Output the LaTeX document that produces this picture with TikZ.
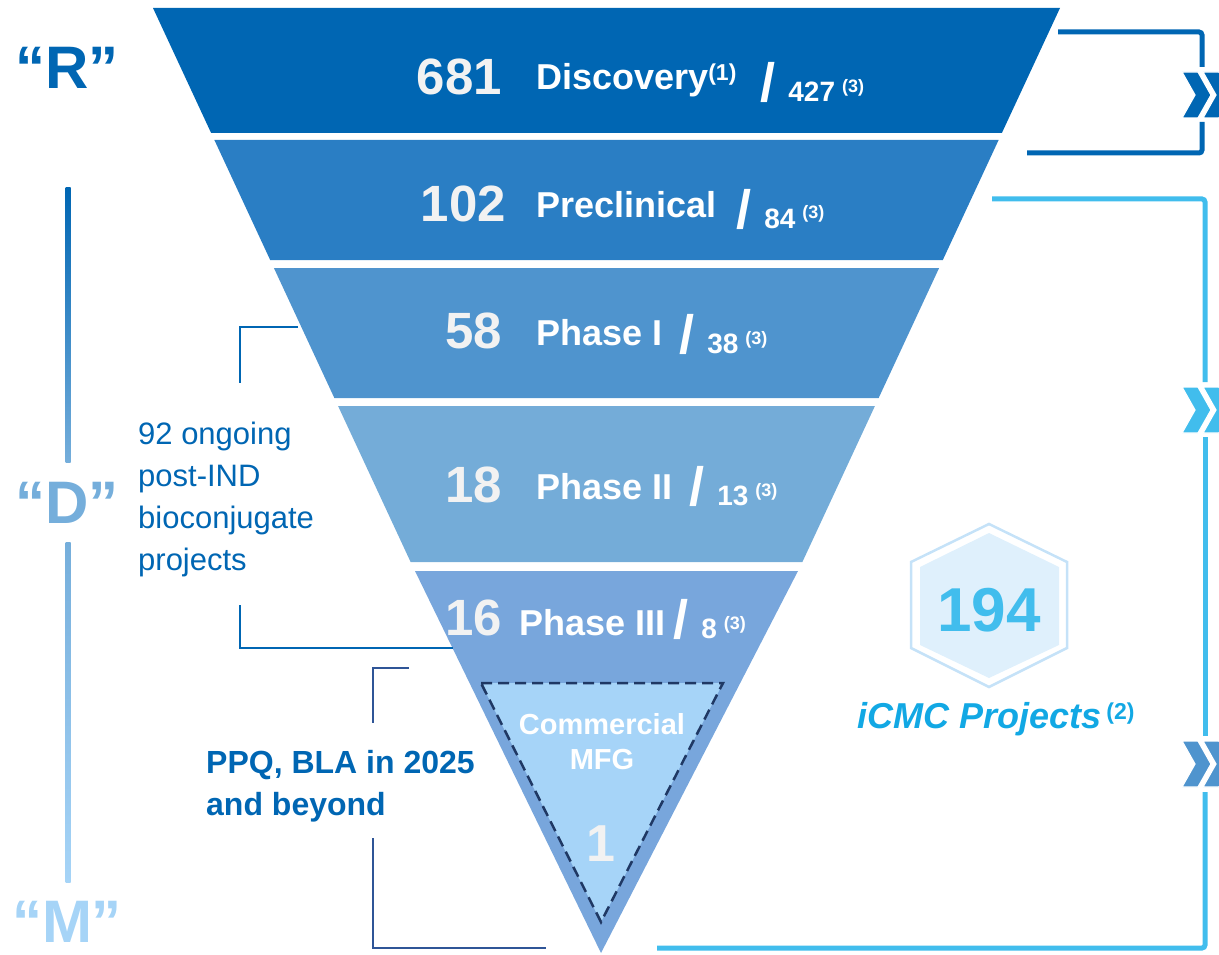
\documentclass[tikz,border=0pt]{standalone}
\usepackage{fontspec}
\setmainfont{Liberation Sans}
\usetikzlibrary{positioning}

\definecolor{bandA}{HTML}{0066B3}
\definecolor{bandB}{HTML}{2A7EC4}
\definecolor{bandC}{HTML}{4F94CE}
\definecolor{bandD}{HTML}{74ACD8}
\definecolor{bandE}{HTML}{78A6DC}
\definecolor{mfg}{HTML}{A6D4F8}
\definecolor{navy}{HTML}{1F3864}
\definecolor{navyB}{HTML}{2F5597}
\definecolor{numgray}{HTML}{F2F2F2}
\definecolor{letterD}{HTML}{75AEDB}
\definecolor{letterM}{HTML}{A6D4F7}
\definecolor{cmc}{HTML}{41BDED}
\definecolor{cmctext}{HTML}{12A8E4}
\definecolor{hexline}{HTML}{C5E2F8}
\definecolor{hexfill}{HTML}{DFF0FC}

\newcommand{\fsz}[1]{\fontsize{#1}{#1}\selectfont}
% slash, count and (3) behind a stage name
\newcommand{\tailcnt}[3]{\hspace{#1}\raisebox{-#2}{\fsz{54}/\hspace{13pt}\fsz{28}#3\hspace{7pt}\raisebox{9pt}{\fsz{18}(3)}}}

\begin{document}
\begin{tikzpicture}[x=1pt,y=-1pt,
    num/.style={inner sep=0pt,anchor=base east,text=numgray,font=\bfseries\fsz{51}},
    stage/.style={inner sep=0pt,text=white,font=\bfseries\fsz{36}},
    note/.style={inner sep=0pt,align=left,anchor=west,text=bandA},
    brk/.style={line width=2pt},
    rail/.style={line width=5pt,rounded corners=3pt}]

  \useasboundingbox (0,0) rectangle (1219,955);

  % funnel
  \foreach \ya/\yb/\col in {8/133/bandA,140/260/bandB,268/398/bandC,406/562/bandD}
    \fill[\col] ({153+0.465*(\ya-8)},\ya) -- ({1060-0.465*(\ya-8)},\ya)
      -- ({1060-0.465*(\yb-8)},\yb) -- ({153+0.465*(\yb-8)},\yb) -- cycle;
  \fill[bandE] (415,571) -- (798,571) -- (601,953) -- cycle;
  \filldraw[fill=mfg,draw=navy,line width=2.5pt,dash pattern=on 11pt off 6pt]
    (481,683) -- (723,683) -- (601,922) -- cycle;

  \node[num]   (n681)  at (502,95)                      {681};
  \node[stage] (disc)  [base right=34pt of n681,yshift=5pt] {Discovery\raisebox{9pt}{\fsz{23}(1)}\tailcnt{24pt}{12pt}{427}};
  \node[num]   (n102)  at (506,222)                     {102};
  \node[stage] (precl) [base right=30pt of n102,yshift=4pt] {Preclinical\tailcnt{20pt}{10pt}{84}};
  \node[num]   (n58)   at (502,348)                     {58};
  \node[stage] (ph1)   [base right=34pt of n58,yshift=3pt]  {Phase I\tailcnt{17pt}{8pt}{38}};
  \node[num]   (n18)   at (502,502)                     {18};
  \node[stage] (ph2)   [base right=34pt of n18,yshift=3pt]  {Phase II\tailcnt{17pt}{6pt}{13}};
  \node[num]   (n16)   at (502,635)                     {16};
  \node[stage] (ph3)   [base right=17pt of n16]             {Phase III\tailcnt{8pt}{3pt}{8}};

  \node[stage,align=center,font=\bfseries\fontsize{29}{35}\selectfont] (comm) at (602,742) {Commercial\\MFG};
  \node[stage,text=numgray,font=\bfseries\fsz{52}] (n1) at (601,844) {1};

  % R / D / M rail
  \shade[top color=bandA,bottom color=letterD] (65.5,188) rectangle (70.5,462);
  \shade[top color=letterD,bottom color=letterM] (65.5,542) rectangle (70.5,882);
  \node[inner sep=0pt,text=bandA,font=\bfseries\fsz{60}]   (rR) at (67,68)  {“R”};
  \node[inner sep=0pt,text=letterD,font=\bfseries\fsz{60}] (rD) at (67,503) {“D”};
  \node[inner sep=0pt,text=letterM,font=\bfseries\fsz{60}] (rM) at (67,922) {“M”};

  % brackets on the left
  \draw[brk,bandA] (298,327) -| (240,383);
  \draw[brk,bandA] (240,605) |- (453,648);
  \node[note,font=\fontsize{31}{42}\selectfont] (ongoing) at (138,499) {92 ongoing\\post-IND\\bioconjugate\\projects};
  \draw[brk,navyB] (409,668) -| (373,723);
  \draw[brk,navyB] (373,838) |- (546,948);
  \node[note,font=\bfseries\fontsize{32}{42}\selectfont] (ppq) at (206,786) {PPQ, BLA in 2025\\and beyond};

  % rails on the right
  \draw[rail,bandA] (1058,32) -| (1202,67);
  \draw[rail,bandA] (1202,122) |- (1027,153);
  \draw[rail,cmc] (992,199) -| (1205,382);
  \draw[rail,cmc] (1205,437) -- (1205,736);
  \draw[rail,cmc] (1205,792) |- (657,948);
  \foreach \cy/\cc in {95/bandA,410/cmc,764/bandC}
    \foreach \dx in {0,21}
      \filldraw[fill=\cc,draw=white,line width=1.2pt] ({1182+\dx},{\cy-23}) -- ++(16,0) -- ++(13,23)
        -- ++(-13,23) -- ++(-16,0) -- ++(13,-23) -- cycle;

  % iCMC hexagon
  \draw[hexline,line width=2.5pt] (989,524) -- (1067,562) -- (1067,648) -- (989,687) -- (911,648) -- (911,562) -- cycle;
  \fill[hexfill] (989,533) -- (1059,567) -- (1059,645) -- (989,678) -- (920,645) -- (920,567) -- cycle;
  \node[inner sep=0pt,text=cmc,font=\bfseries\fsz{62}] (n194) at (989,610) {194};
  \node[inner sep=0pt,anchor=base,text=cmctext,font=\bfseries\itshape\fsz{36}] (icmc) at (996,728)
    {iCMC Projects\hspace{5pt}\raisebox{9pt}{\upshape\fsz{23}(2)}};
\end{tikzpicture}
\end{document}
